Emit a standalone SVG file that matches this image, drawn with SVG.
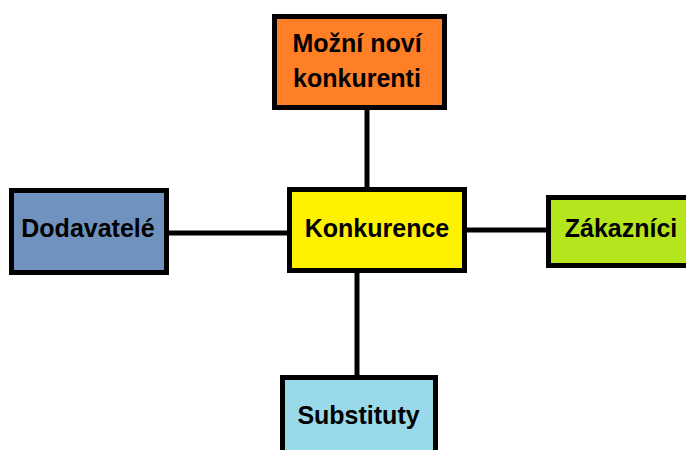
<svg xmlns="http://www.w3.org/2000/svg" width="686" height="450" viewBox="0 0 686 450">
<style>
.box{stroke:#000;stroke-width:5}
.lbl{font-family:"Liberation Sans",Arial,sans-serif;font-weight:bold;font-size:25px;fill:#000;text-anchor:middle}
.con{stroke:#000;stroke-width:5;fill:none}
</style>
<rect width="686" height="450" fill="#fff"/>
<g id="connectors">
<line class="con" x1="367" y1="108" x2="367" y2="190"/>
<line class="con" x1="167" y1="233" x2="290" y2="233"/>
<line class="con" x1="464" y1="230" x2="549" y2="230"/>
<line class="con" x1="357" y1="270" x2="357" y2="378"/>
</g>
<g id="node-top">
<rect class="box" x="274.5" y="16.5" width="170" height="91" fill="#FF7F27"/>
<text class="lbl" x="357" y="52">Možní noví</text>
<text class="lbl" x="357" y="87">konkurenti</text>
</g>
<g id="node-left">
<rect class="box" x="11.5" y="190.5" width="155" height="82" fill="#7092BE"/>
<text class="lbl" x="88" y="237">Dodavatelé</text>
</g>
<g id="node-center">
<rect class="box" x="289.5" y="189.5" width="175" height="81" fill="#FFF200"/>
<text class="lbl" x="377" y="237">Konkurence</text>
</g>
<g id="node-right">
<rect class="box" x="548.5" y="197.5" width="145" height="68" fill="#B5E61D"/>
<text class="lbl" x="621" y="237">Zákazníci</text>
</g>
<g id="node-bottom">
<rect class="box" x="282.5" y="377.5" width="153" height="80" fill="#99D9EA"/>
<text class="lbl" x="358.5" y="424">Substituty</text>
</g>
</svg>
